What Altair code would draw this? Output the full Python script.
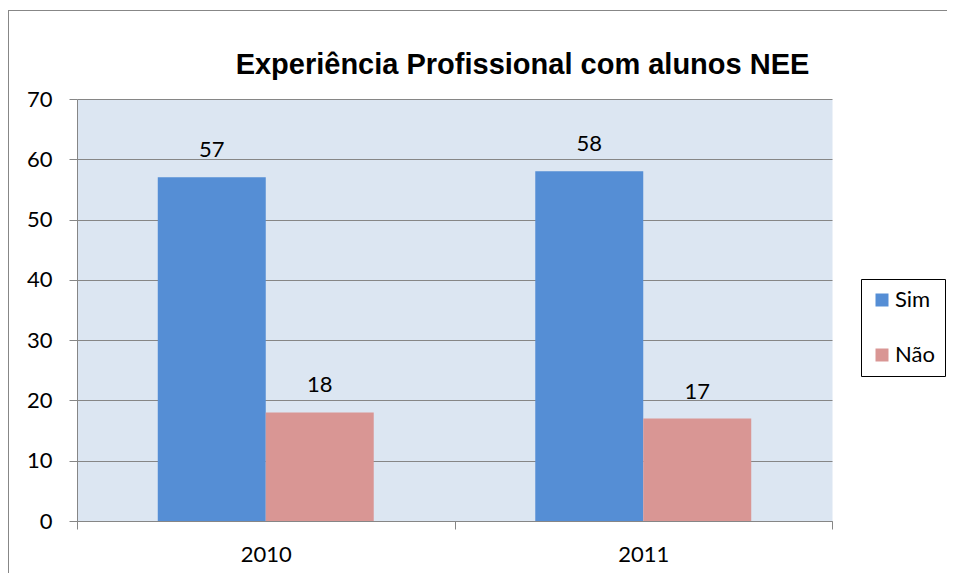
import altair as alt
import pandas as pd

years = ["2010", "2011"]
series = ["Sim", "Não"]
sim_values = [57, 58]
nao_values = [18, 17]
colors = ["#558ed5", "#d99694"]
title_text = "Experiência Profissional com alunos NEE"

rows = []
for i, y in enumerate(years):
    rows.append({"ano": y, "serie": "Sim", "valor": sim_values[i]})
    rows.append({"ano": y, "serie": "Não", "valor": nao_values[i]})
df = pd.DataFrame(rows)

W, H = 755, 422
FONT = "Lato"

x_enc = alt.X("ano:N", sort=years,
              scale=alt.Scale(paddingInner=0, paddingOuter=0),
              axis=alt.Axis(title=None, labelAngle=0, tickBand="extent", tickSize=8,
                            labelPadding=15, labelFont=FONT, labelFontSize=22,
                            labelColor="black", domainColor="#868686", tickColor="#868686",
                            grid=False))
xo_enc = alt.XOffset("serie:N", sort=series,
                     scale=alt.Scale(paddingInner=0, paddingOuter=0.748))
y_enc = alt.Y("valor:Q", scale=alt.Scale(domain=[0, 70], nice=False),
              axis=alt.Axis(title=None, values=list(range(0, 71, 10)), tickSize=8,
                            labelPadding=17, labelFont=FONT, labelFontSize=22,
                            labelColor="black", domainColor="#868686", tickColor="#868686",
                            gridColor="#868686", gridWidth=1, grid=True))

base = alt.Chart(df)

bars = base.mark_bar().encode(
    x=x_enc, xOffset=xo_enc, y=y_enc,
    color=alt.Color("serie:N", sort=series,
                    scale=alt.Scale(domain=series, range=colors),
                    legend=alt.Legend(title=None, orient="none", legendX=784, legendY=180,
                                      strokeColor="black", padding=10, rowPadding=33,
                                      symbolType="square", symbolSize=169,
                                      symbolStrokeWidth=0, labelFont=FONT,
                                      labelFontSize=22, labelColor="black",
                                      labelOffset=2)),
)

labels = base.mark_text(baseline="alphabetic", dy=-20, font=FONT, fontSize=22,
                        color="black").encode(
    x=x_enc, xOffset=xo_enc, y=y_enc, text="valor:Q"
)

one = pd.DataFrame({"f": [0]})
frame_top = alt.Chart(one).mark_rect(color="#878787", strokeWidth=0).encode(
    x=alt.value(-69), x2=alt.value(870), y=alt.value(-89), y2=alt.value(-88))
frame_left = alt.Chart(one).mark_rect(color="#878787", strokeWidth=0).encode(
    x=alt.value(-69), x2=alt.value(-68), y=alt.value(-89), y2=alt.value(474))

chart = alt.layer(frame_top, frame_left, bars, labels).properties(
    width=W, height=H,
    padding={"left": 69, "top": 91, "right": 115, "bottom": 52},
    autosize=alt.AutoSizeParams(type="none"),
    title=alt.TitleParams(title_text, font="Liberation Sans", fontSize=29,
                          fontWeight="bold", color="black", anchor="middle",
                          frame="group", baseline="alphabetic", dx=68, dy=97),
).configure_view(fill="#dce6f2", stroke="transparent")

chart.save("out.html", embed_options={"renderer": "svg", "actions": False})
